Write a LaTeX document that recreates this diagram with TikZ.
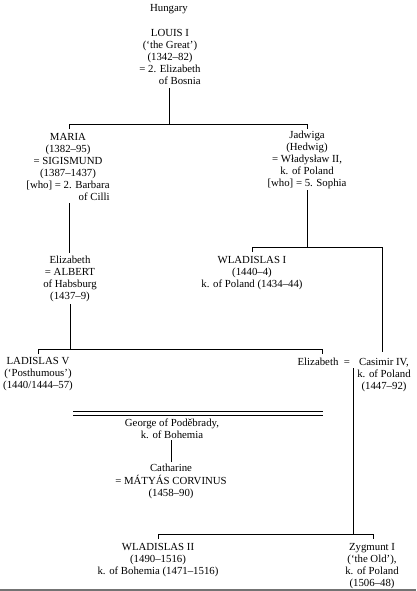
\documentclass[tikz,border=0pt]{standalone}
\usepackage{fontspec}
\setmainfont{Liberation Serif}
\begin{document}
\begin{tikzpicture}[x=1pt,y=-1pt,
  every node/.style={inner sep=0pt,outer sep=0pt,anchor=base,font=\fontsize{10.8}{12}\selectfont},
  line/.style={line width=0.7pt,black},
  dbl/.style={line width=0.9pt,black}]
\useasboundingbox (0,0) rectangle (416,591);
\newcommand{\blk}[1]{\begin{tabular}[t]{@{}c@{}}#1\end{tabular}}
\newcommand{\rline}[1]{\multicolumn{1}{@{}r@{}}{#1}}

\node (hun) at (169,11.5) {Hungary};
\node (louis) at (170,36.5) {\blk{LOUIS I\\(`the Great')\\(1342--82)\\= 2. Elizabeth\\\rline{of Bosnia}}};
\node (maria) at (68,140.5) {\blk{MARIA\\(1382--95)\\= SIGISMUND\\(1387--1437)\\{[who]} = 2. Barbara\\\rline{of Cilli}}};
\node (jadwiga) at (307,138.5) {\blk{Jadwiga\\(Hedwig)\\= Władysław II,\\k. of Poland\\{[who]} = 5. Sophia}};
\node (elizA) at (70,263.5) {\blk{Elizabeth\\= ALBERT\\of Habsburg\\(1437--9)}};
\node (wlad1) at (252,263.5) {\blk{WLADISLAS I\\(1440--4)\\k. of Poland (1434--44)}};
\node (lad5) at (38,364.5) {\blk{LADISLAS V\\(`Posthumous')\\(1440/1444--57)}};
\node (elizB) at (318,365.5) {Elizabeth};
\node (eq) at (347,365.5) {=};
\node (casimir) at (384,365.5) {\blk{Casimir IV,\\k. of Poland\\(1447--92)}};
\node (george) at (172,426.5) {\blk{George of Poděbrady,\\k. of Bohemia}};
\node (cath) at (171,471.5) {\blk{Catharine\\= MÁTYÁS CORVINUS\\(1458--90)}};
\node (wlad2) at (158,550.5) {\blk{WLADISLAS II\\(1490--1516)\\k. of Bohemia (1471--1516)}};
\node (zyg) at (372,550.5) {\blk{Zygmunt I\\(`the Old'),\\k. of Poland\\(1506--48)}};

% junction coordinates
\coordinate (louisB) at (169,88);
\coordinate (barL) at (69,124);
\coordinate (barR) at (307,124);
\coordinate (mariaT) at (69,129);
\coordinate (jadT) at (307,129);
\coordinate (mariaB) at (69,203);
\coordinate (elizAT) at (69,253);
\coordinate (elizAB) at (70,304);
\coordinate (bar2L) at (38,349);
\coordinate (bar2R) at (322,349);
\coordinate (lad5T) at (38,354);
\coordinate (elizBT) at (322,354);
\coordinate (jadB) at (307,190);
\coordinate (bar3L) at (252,247);
\coordinate (bar3R) at (382,247);
\coordinate (wlad1T) at (252,252);
\coordinate (casT) at (382,352);
\coordinate (marrB) at (353,368);
\coordinate (bar4M) at (353,534);
\coordinate (bar4L) at (158,534);
\coordinate (bar4R) at (373,534);
\coordinate (wlad2T) at (158,539);
\coordinate (zygT) at (373,539);
\coordinate (dblL) at (73,411);
\coordinate (dblR) at (323,411);
\coordinate (dblL2) at (73,415);
\coordinate (dblR2) at (323,415);
\coordinate (georgeB) at (171,440);
\coordinate (cathT) at (171,462);
\coordinate (botL) at (0,590);
\coordinate (botR) at (416,590);

\draw[line] (louisB) -- (louisB |- barL);
\draw[line] (mariaT) -- (barL) -- (barR) -- (jadT);
\draw[line] (mariaB) -- (elizAT);
\draw[line] (elizAB) -- (elizAB |- bar2L);
\draw[line] (lad5T) -- (bar2L) -- (bar2R) -- (elizBT);
\draw[line] (jadB) -- (jadB |- bar3L);
\draw[line] (wlad1T) -- (bar3L) -- (bar3R) -- (casT);
\draw[line] (marrB) -- (bar4M);
\draw[line] (wlad2T) -- (bar4L) -- (bar4R) -- (zygT);
\draw[dbl] (dblL) -- (dblR);
\draw[dbl] (dblL2) -- (dblR2);
\draw[line] (georgeB) -- (cathT);
\draw[line width=1.2pt,black!55] (botL) -- (botR);
\end{tikzpicture}
\end{document}
